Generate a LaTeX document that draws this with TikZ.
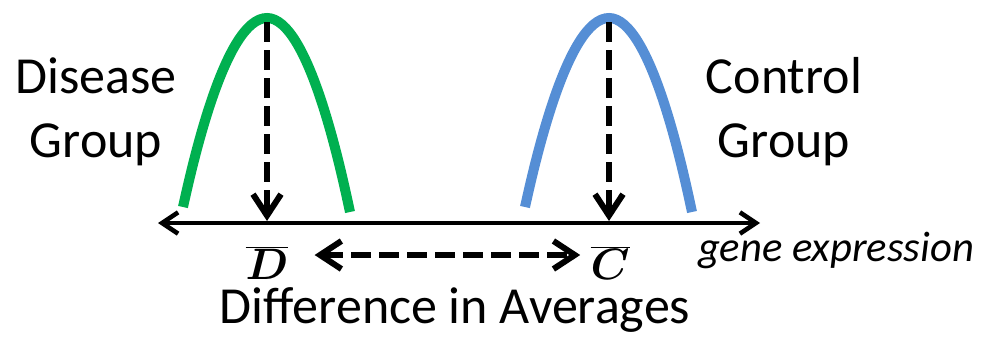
\RequirePackage{fix-cm}
\documentclass[tikz,border=0pt]{standalone}
\usepackage{fontspec}
\setmainfont{Carlito}
\usepackage{bm}
\usetikzlibrary{arrows.meta}
\definecolor{dgreen}{RGB}{0,176,80}
\definecolor{cblue}{RGB}{85,142,213}
\tikzset{barb/.tip={Straight Barb[length=12pt,width=16pt,line width=3.4pt]},
 bigbarb/.tip={Straight Barb[length=16pt,width=21pt,line width=4.5pt]},
 bell/.style={line width=7.5pt},
 dashline/.style={line width=5pt,dash pattern=on 15pt off 6pt},
 lbl/.style={font=\fontsize{39}{48}\selectfont,align=center},
 mean/.style={font=\fontsize{33}{36}\selectfont,inner sep=0pt}}
\begin{document}
\begin{tikzpicture}[x=.75pt,y=-.75pt,line width=3.4pt]
 \useasboundingbox (0,0) rectangle (984,336);
 % axis
 \coordinate (axl) at (158,223); \coordinate (axr) at (760,223);
 \draw[barb-barb] (axl) -- (axr);
 % the two groups
 \foreach \n/\c/\x in {d/dgreen/267,c/cblue/609}{
  \draw[bell,\c] (\x-84,207) parabola bend (\x,18) (\x+83,212);
  \coordinate (\n top) at (\x,22); \coordinate (\n bot) at (\x,221);
  \draw[dashline,-bigbarb] (\n top) -- (\n bot);}
 \node[lbl] (disease) at (96,112) {Disease\\Group};
 \node[lbl] (control) at (784,112) {Control\\Group};
 \node[mean] (dbar) at (267,263) {$\overline{\bm{D}}$};
 \node[mean] (cbar) at (610,263) {$\overline{\bm{C}}$};
 \draw[dashline,bigbarb-bigbarb,shorten <=18pt,shorten >=6pt] ([yshift=6pt]dbar.east) -- ([yshift=6pt]cbar.west);
 \node[anchor=base,font=\fontsize{32}{36}\selectfont\itshape] (expr) at (836,261) {gene expression};
 \node[anchor=base,font=\fontsize{39}{44}\selectfont] (diff) at (455,323) {Difference in Averages};
\end{tikzpicture}
\end{document}
